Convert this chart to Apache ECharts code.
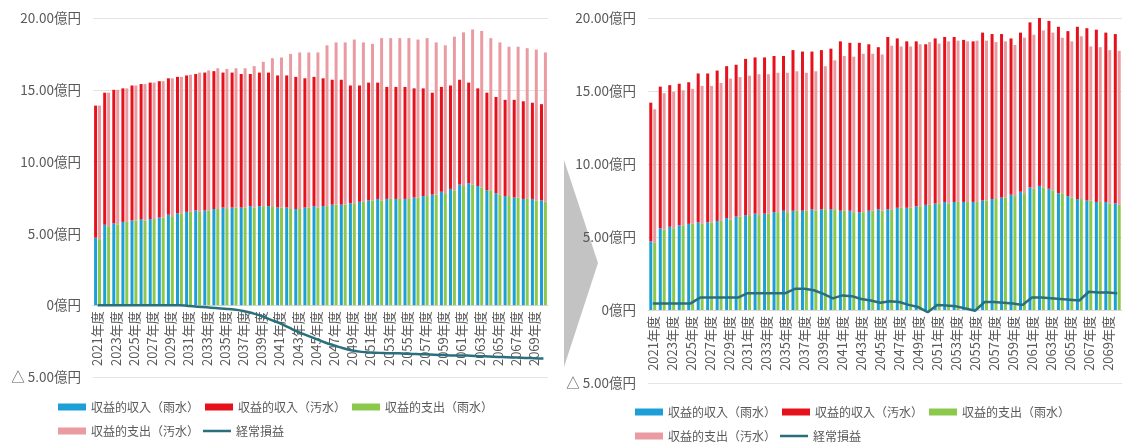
<!DOCTYPE html>
<html>
<head>
<meta charset="utf-8">
<script src="https://cdn.jsdelivr.net/npm/echarts@6/dist/echarts.min.js"></script>
<style>
  html, body { margin: 0; padding: 0; background: #ffffff; }
  #chart { width: 1132px; height: 447px; }
</style>
</head>
<body>
<div id="chart"></div>
<script>
// Fiscal years 2021–2070
const years = [
  '2021年度','2022年度','2023年度','2024年度','2025年度','2026年度','2027年度','2028年度','2029年度','2030年度',
  '2031年度','2032年度','2033年度','2034年度','2035年度','2036年度','2037年度','2038年度','2039年度','2040年度',
  '2041年度','2042年度','2043年度','2044年度','2045年度','2046年度','2047年度','2048年度','2049年度','2050年度',
  '2051年度','2052年度','2053年度','2054年度','2055年度','2056年度','2057年度','2058年度','2059年度','2060年度',
  '2061年度','2062年度','2063年度','2064年度','2065年度','2066年度','2067年度','2068年度','2069年度','2070年度'
];

// Stormwater (雨水) revenue and expense, 億円 – shared by both cases
const rainRevenue = [
  4.7, 5.6, 5.7, 5.8, 5.9, 6.0, 6.0, 6.1, 6.3, 6.4,
  6.5, 6.6, 6.6, 6.7, 6.8, 6.8, 6.8, 6.9, 6.9, 6.9,
  6.8, 6.8, 6.7, 6.8, 6.9, 6.9, 7.0, 7.0, 7.1, 7.2,
  7.3, 7.4, 7.4, 7.4, 7.4, 7.5, 7.6, 7.7, 7.9, 8.1,
  8.4, 8.5, 8.3, 8.0, 7.8, 7.6, 7.5, 7.4, 7.4, 7.3
];
const rainExpense = [
  4.6, 5.5, 5.6, 5.8, 5.9, 5.9, 6.0, 6.1, 6.2, 6.4,
  6.5, 6.5, 6.6, 6.7, 6.7, 6.8, 6.8, 6.8, 6.9, 6.9,
  6.8, 6.7, 6.7, 6.8, 6.8, 6.9, 7.0, 7.0, 7.1, 7.2,
  7.3, 7.3, 7.4, 7.4, 7.4, 7.5, 7.6, 7.7, 7.8, 8.0,
  8.3, 8.4, 8.2, 8.0, 7.7, 7.6, 7.5, 7.4, 7.3, 7.2
];

// Left case: total revenue / total expense / ordinary profit (億円)
const revenueTotalL = [
  13.9, 14.8, 15.0, 15.1, 15.3, 15.4, 15.5, 15.6, 15.8, 15.9,
  16.0, 16.1, 16.2, 16.3, 16.2, 16.2, 16.1, 16.1, 16.2, 16.2,
  16.0, 16.0, 15.9, 15.8, 15.9, 15.8, 15.7, 15.7, 15.3, 15.3,
  15.5, 15.5, 15.2, 15.2, 15.2, 15.1, 15.1, 14.8, 15.2, 15.3,
  15.7, 15.5, 15.1, 14.8, 14.5, 14.3, 14.3, 14.2, 14.1, 14.0
];
const expenseTotalL = [
  13.9, 14.8, 15.0, 15.1, 15.3, 15.4, 15.5, 15.6, 15.8, 15.9,
  16.05, 16.2, 16.35, 16.5, 16.45, 16.5, 16.5, 16.65, 16.95, 17.2,
  17.25, 17.5, 17.6, 17.6, 17.6, 18.1, 18.3, 18.3, 18.5, 18.3,
  18.2, 18.6, 18.6, 18.6, 18.6, 18.5, 18.6, 18.3, 18.1, 18.7,
  19.0, 19.2, 19.1, 18.6, 18.3, 18.0, 18.0, 17.9, 17.8, 17.6
];
const profitL = [
  0.0, 0.0, 0.0, 0.0, 0.0, 0.0, 0.0, 0.0, 0.0, 0.0,
  -0.05, -0.1, -0.15, -0.2, -0.25, -0.3, -0.4, -0.55, -0.75, -1.0,
  -1.25, -1.55, -1.85, -2.1, -2.35, -2.6, -2.8, -3.0, -3.15, -3.25,
  -3.3, -3.32, -3.35, -3.35, -3.38, -3.4, -3.42, -3.45, -3.47, -3.5,
  -3.5, -3.52, -3.55, -3.57, -3.6, -3.62, -3.65, -3.67, -3.7, -3.72
];

// Right case: total revenue / total expense / ordinary profit (億円)
const revenueTotalR = [
  14.2, 15.3, 15.4, 15.5, 15.6, 16.2, 16.2, 16.4, 16.7, 16.8,
  17.2, 17.3, 17.3, 17.4, 17.4, 17.8, 17.7, 17.7, 17.8, 17.9,
  18.4, 18.3, 18.3, 18.2, 18.0, 18.7, 18.6, 18.4, 18.4, 18.2,
  18.6, 18.7, 18.7, 18.5, 18.4, 19.0, 18.9, 18.9, 18.6, 19.0,
  19.7, 20.0, 19.8, 19.4, 19.1, 19.4, 19.3, 19.2, 19.0, 18.9
];
const expenseTotalR = [
  13.75, 14.85, 14.95, 15.05, 15.15, 15.35, 15.35, 15.55, 15.85, 15.95,
  16.05, 16.15, 16.15, 16.25, 16.25, 16.35, 16.25, 16.35, 16.7, 17.1,
  17.4, 17.35, 17.55, 17.55, 17.5, 18.1, 18.05, 18.05, 18.2, 18.35,
  18.25, 18.4, 18.45, 18.4, 18.45, 18.45, 18.35, 18.4, 18.15, 18.65,
  18.85, 19.15, 19.0, 18.65, 18.4, 18.75, 18.05, 18.0, 17.8, 17.75
];
const profitR = [
  0.45, 0.45, 0.45, 0.45, 0.45, 0.85, 0.85, 0.85, 0.85, 0.85,
  1.15, 1.15, 1.15, 1.15, 1.15, 1.45, 1.45, 1.35, 1.1, 0.8,
  1.0, 0.95, 0.75, 0.65, 0.5, 0.6, 0.55, 0.35, 0.2, -0.15,
  0.35, 0.3, 0.25, 0.1, -0.05, 0.55, 0.55, 0.5, 0.45, 0.35,
  0.85, 0.85, 0.8, 0.75, 0.7, 0.65, 1.25, 1.2, 1.2, 1.15
];

// Y-axis ticks (億円)
const yMin = -5, yMax = 20, yStep = 5;

const names = {
  rainRev: '収益的収入（雨水）',
  sewRev: '収益的収入（汚水）',
  rainExp: '収益的支出（雨水）',
  sewExp: '収益的支出（汚水）',
  profit: '経常損益'
};
const colors = {
  rainRev: '#1c9fd6',
  sewRev: '#e5121c',
  rainExp: '#8cc84b',
  sewExp: '#ea9ba2',
  profit: '#2a6f7e'
};

// Upper stacked segment = total minus stormwater part
const diff = (tot, base) => tot.map((v, i) => +(v - base[i]).toFixed(2));

const FONT = '"Noto Sans CJK JP", "Noto Sans", sans-serif';
const TXT = '#595959';

function yLabel(v) {
  if (v === 0) return '0億円';
  if (v < 0) return '△ ' + Math.abs(v).toFixed(2) + '億円';
  return v.toFixed(2) + '億円';
}

// The category axis sits on the zero line: shift it up by the -5..0 band
function axesFor(idx, gridHeight) {
  const zeroOffset = -gridHeight * (0 - yMin) / (yMax - yMin);
  return {
    x: {
      type: 'category', gridIndex: idx, data: years,
      position: 'bottom', offset: zeroOffset,
      axisLine: { show: true, onZero: false, lineStyle: { color: '#d9d9d9' } },
      axisTick: { show: false },
      axisLabel: { interval: 1, rotate: 90, margin: 6, fontSize: 13, color: TXT, fontFamily: FONT }
    },
    y: {
      type: 'value', gridIndex: idx, min: yMin, max: yMax, interval: yStep,
      axisLine: { show: false }, axisTick: { show: false },
      splitLine: { lineStyle: { color: '#e4e4e4', width: 1 } },
      axisLabel: { formatter: yLabel, fontSize: 13.5, color: TXT, fontFamily: FONT, margin: 12 }
    }
  };
}

function seriesFor(idx, revTot, expTot, profit, smooth) {
  const bar = { type: 'bar', xAxisIndex: idx, yAxisIndex: idx, barWidth: 3, barGap: '30%' };
  return [
    Object.assign({}, bar, { name: names.rainRev, stack: 'rev' + idx, data: rainRevenue, itemStyle: { color: colors.rainRev } }),
    Object.assign({}, bar, { name: names.sewRev, stack: 'rev' + idx, data: diff(revTot, rainRevenue), itemStyle: { color: colors.sewRev } }),
    Object.assign({}, bar, { name: names.rainExp, stack: 'exp' + idx, data: rainExpense, itemStyle: { color: colors.rainExp } }),
    Object.assign({}, bar, { name: names.sewExp, stack: 'exp' + idx, data: diff(expTot, rainExpense), itemStyle: { color: colors.sewExp } }),
    {
      type: 'line', name: names.profit, xAxisIndex: idx, yAxisIndex: idx, data: profit,
      smooth: smooth, symbol: 'none', z: 5,
      lineStyle: { color: colors.profit, width: 2.5 }, itemStyle: { color: colors.profit }
    }
  ];
}

function legendRow(left, top, keys, iconHeight) {
  return {
    left: left, top: top, orient: 'horizontal', padding: 0,
    itemWidth: 28, itemHeight: iconHeight || 7, itemGap: 6,
    textStyle: { fontSize: 12, color: TXT, fontFamily: FONT },
    data: keys.map(k => ({ name: names[k], icon: 'rect' }))
  };
}

const GH0 = 359, GH1 = 365;
const a0 = axesFor(0, GH0), a1 = axesFor(1, GH1);

const option = {
  backgroundColor: '#ffffff',
  animation: false,
  textStyle: { fontFamily: FONT },
  grid: [
    { left: 93, top: 18, width: 455, height: GH0 },
    { left: 648, top: 18, width: 474, height: GH1 }
  ],
  xAxis: [a0.x, a1.x],
  yAxis: [a0.y, a1.y],
  legend: [
    legendRow(58, 401, ['rainRev', 'sewRev', 'rainExp']),
    legendRow(58, 425, ['sewExp']),
    legendRow(203, 425, ['profit'], 2.5),
    legendRow(635, 406, ['rainRev', 'sewRev', 'rainExp']),
    legendRow(635, 430, ['sewExp']),
    legendRow(780, 430, ['profit'], 2.5)
  ],
  graphic: [{
    type: 'polygon',
    shape: { points: [[564, 160], [598, 263], [564, 367]] },
    style: { fill: '#c3c3c3' },
    z: -1
  }],
  series: [].concat(
    seriesFor(0, revenueTotalL, expenseTotalL, profitL, true),
    seriesFor(1, revenueTotalR, expenseTotalR, profitR, false)
  )
};

echarts.init(document.getElementById('chart'), null, { renderer: 'canvas' }).setOption(option);
</script>
</body>
</html>
